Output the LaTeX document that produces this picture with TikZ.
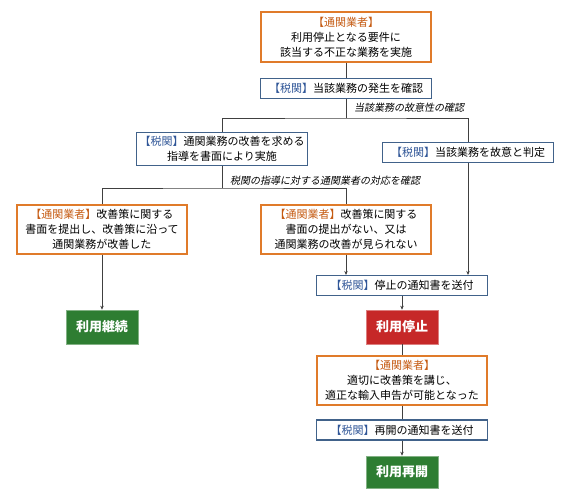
\documentclass[tikz,border=0pt]{standalone}
\usepackage{fontspec}
\setmainfont{Noto Sans CJK JP}
\newfontfamily\slantjp[FakeSlant=0.2]{Noto Sans CJK JP}
\usetikzlibrary{arrows.meta, positioning, calc}
\definecolor{gyoshaline}{HTML}{E07B2A}
\definecolor{gyoshatext}{HTML}{C55A11}
\definecolor{zeikanline}{HTML}{41628A}
\definecolor{zeikantext}{HTML}{2F5597}
\definecolor{okgreen}{HTML}{2E7D32}
\definecolor{ngred}{HTML}{C62828}
\definecolor{linkgray}{HTML}{404040}
\newcommand{\gyosha}{{\color{gyoshatext}【通関業者】}}
\newcommand{\zeikan}{{\color{zeikantext}【税関】}}

\tikzset{
  gyoshabox/.style={draw=gyoshaline, line width=1.1pt, fill=white,
    align=center, inner sep=2pt, minimum width=170pt},
  zeikanbox/.style={draw=zeikanline, line width=1.1pt, fill=white,
    align=center, inner sep=2pt, minimum width=171pt, minimum height=20pt},
  resultbox/.style={fill=#1, draw=#1!60!white, line width=0.6pt,
    text=white, font=\fontsize{13}{15}\selectfont\bfseries,
    minimum width=72pt, minimum height=34pt},
  link/.style={draw=linkgray, line width=0.9pt},
  linkarrow/.style={link, -{Stealth[length=4pt, width=3.5pt]}},
  checknote/.style={font=\slantjp\fontsize{10}{12}\selectfont, anchor=west, inner sep=1pt}
}

\begin{document}
\begin{tikzpicture}[x=1pt, y=-1pt, font=\fontsize{11}{15}\selectfont]
  \useasboundingbox (0,0) rectangle (566,497);

  % upper part
  \node[gyoshabox, minimum height=50pt] (gyosha1) at (346,37)
    {\gyosha\\利用停止となる要件に\\該当する不正な業務を実施};
  \node[zeikanbox] (kakunin) at (346,88.5) {\zeikan 当該業務の発生を確認};
  \node[zeikanbox, minimum height=33pt] (shido) at (222,149)
    {\zeikan 通関業務の改善を求める\\指導を書面により実施};
  \node[zeikanbox] (koi) at (468,152.5) {\zeikan 当該業務を故意と判定};

  % response of the broker
  \node[gyoshabox, minimum height=49pt] (kaizen) at (102,229.5)
    {\gyosha 改善策に関する\\書面を提出し、改善策に沿って\\通関業務が改善した};
  \node[gyoshabox, minimum height=49pt] (mikaizen) at (346,229.5)
    {\gyosha 改善策に関する\\書面の提出がない、又は\\通関業務の改善が見られない};
  \node[zeikanbox] (teishitsuchi) at (402,285.5) {\zeikan 停止の通知書を送付};

  \node[resultbox=okgreen] (keizoku) at (102,327) {利用継続};
  \node[resultbox=ngred]   (teishi)  at (402,327) {利用停止};

  % restart
  \node[gyoshabox, minimum height=49pt] (gyosha2) at (402,380.5)
    {\gyosha\\適切に改善策を講じ、\\適正な輸入申告が可能となった};
  \node[zeikanbox] (saikaitsuchi) at (402,430) {\zeikan 再開の通知書を送付};
  \node[resultbox=okgreen, minimum height=32pt] (saikai) at (402,472) {利用再開};

  % junctions
  \coordinate (koibranch) at (346,118);
  \coordinate (taiobranch) at (222,188);

  \draw[link] (gyosha1) -- (kakunin);
  \draw[link] (kakunin) -- (koibranch);
  \draw[link] (shido.north) |- (koibranch) -| (koi.north);
  \node[checknote] (koinote) at ($(koibranch)+(7,-10)$) {当該業務の故意性の確認};

  \draw[link] (shido) -- (taiobranch);
  \draw[link] (kaizen.north) |- (taiobranch) -| (mikaizen.north);
  \node[checknote] (taionote) at ($(taiobranch)+(7,-7)$) {税関の指導に対する通関業者の対応を確認};

  \draw[linkarrow] (kaizen) -- (keizoku);
  \draw[linkarrow] (mikaizen.south) -- (mikaizen.south |- teishitsuchi.north);
  \draw[linkarrow] (koi.south) -- (koi.south |- teishitsuchi.north);
  \draw[linkarrow] (teishitsuchi) -- (teishi);
  \draw[link] (teishi) -- (gyosha2);
  \draw[link] (gyosha2) -- (saikaitsuchi);
  \draw[linkarrow] (saikaitsuchi) -- (saikai);
\end{tikzpicture}
\end{document}
